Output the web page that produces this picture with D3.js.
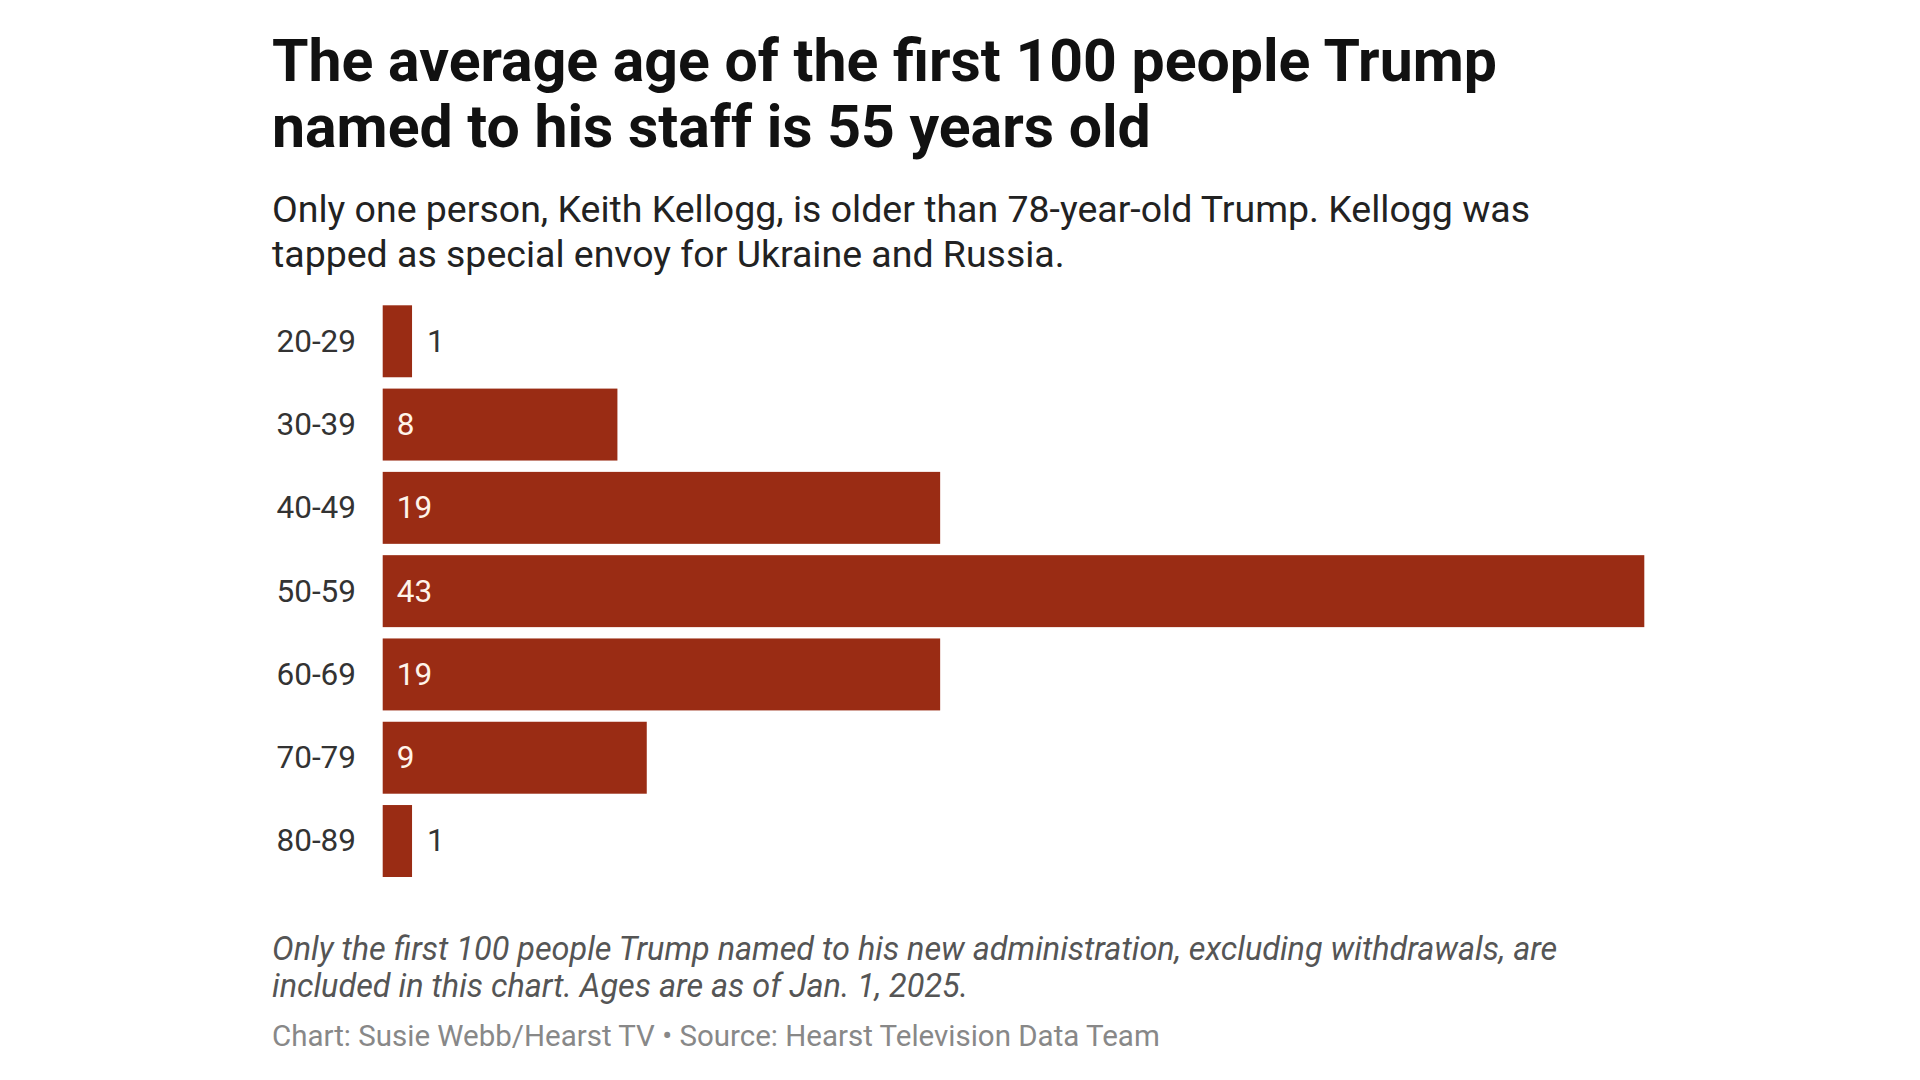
<!DOCTYPE html>
<html>
<head>
<meta charset="utf-8">
<script src="https://cdn.jsdelivr.net/npm/d3@7"></script>
<style>
  html, body { margin: 0; padding: 0; background: #ffffff; }
  svg { display: block; }
  text { font-family: Roboto, "Noto Sans", sans-serif; }
</style>
</head>
<body>
<svg id="chart" width="1920" height="1080"></svg>
<script>
const categories = ["20-29", "30-39", "40-49", "50-59", "60-69", "70-79", "80-89"];
const counts = [1, 8, 19, 43, 19, 9, 1];
const titleLines = [
  "The average age of the first 100 people Trump",
  "named to his staff is 55 years old"
];
const subtitleLines = [
  "Only one person, Keith Kellogg, is older than 78-year-old Trump. Kellogg was",
  "tapped as special envoy for Ukraine and Russia."
];
const noteLines = [
  "Only the first 100 people Trump named to his new administration, excluding withdrawals, are",
  "included in this chart. Ages are as of Jan. 1, 2025."
];
const sourceLine = "Chart: Susie Webb/Hearst TV \u2022 Source: Hearst Television Data Team";

const svg = d3.select("#chart");
const left = 272;

// Fit a text element to a target width by adjusting font size
function fit(sel, target) {
  const node = sel.node();
  const fs = parseFloat(sel.attr("font-size"));
  const w = node.getComputedTextLength();
  if (w > 0) sel.attr("font-size", (fs * target / w).toFixed(2));
}

// Title
const t1 = svg.append("text").attr("x", left).attr("y", 81)
  .attr("font-size", 58).attr("font-weight", 700).attr("fill", "#111")
  .text(titleLines[0]);
fit(t1, 1225);
const tfs = t1.attr("font-size");
svg.append("text").attr("x", left).attr("y", 147)
  .attr("font-size", tfs).attr("font-weight", 700).attr("fill", "#111")
  .text(titleLines[1]);

// Subtitle
const s1 = svg.append("text").attr("x", left).attr("y", 222)
  .attr("font-size", 35).attr("fill", "#222").text(subtitleLines[0]);
fit(s1, 1258);
svg.append("text").attr("x", left).attr("y", 267)
  .attr("font-size", s1.attr("font-size")).attr("fill", "#222").text(subtitleLines[1]);

// Bars
const x = d3.scaleLinear().domain([0, 43]).range([382.7, 1644.3]);
const y = d3.scaleBand().domain(categories).range([305.3, 877]).paddingInner(0.136).paddingOuter(0);
const data = categories.map((c, i) => ({ cat: c, v: counts[i] }));

const labelFs = 31.5;
const g = svg.append("g");
g.selectAll("rect").data(data).join("rect")
  .attr("x", x(0))
  .attr("y", d => y(d.cat))
  .attr("width", d => x(d.v) - x(0))
  .attr("height", y.bandwidth())
  .attr("fill", "#9a2c14");

// category labels
g.selectAll("text.cat").data(data).join("text")
  .attr("class", "cat")
  .attr("x", 356)
  .attr("y", d => y(d.cat) + y.bandwidth() / 2)
  .attr("dy", "0.33em")
  .attr("text-anchor", "end")
  .attr("font-size", labelFs)
  .attr("fill", "#333")
  .text(d => d.cat);

// value labels
g.selectAll("text.val").data(data).join("text")
  .attr("class", "val")
  .attr("x", d => d.v >= 3 ? x(0) + 14 : x(d.v) + 15)
  .attr("y", d => y(d.cat) + y.bandwidth() / 2)
  .attr("dy", "0.33em")
  .attr("font-size", labelFs)
  .attr("fill", d => d.v >= 3 ? "#fff4ea" : "#333")
  .text(d => d.v);

// Notes
const n1 = svg.append("text").attr("x", left).attr("y", 960)
  .attr("font-size", 28).attr("font-style", "italic").attr("fill", "#555")
  .text(noteLines[0]);
fit(n1, 1286);
svg.append("text").attr("x", left).attr("y", 997)
  .attr("font-size", n1.attr("font-size")).attr("font-style", "italic").attr("fill", "#555")
  .text(noteLines[1]);

const src = svg.append("text").attr("x", left).attr("y", 1046)
  .attr("font-size", 27).attr("fill", "#888").text(sourceLine);
fit(src, 888);
</script>
</body>
</html>
